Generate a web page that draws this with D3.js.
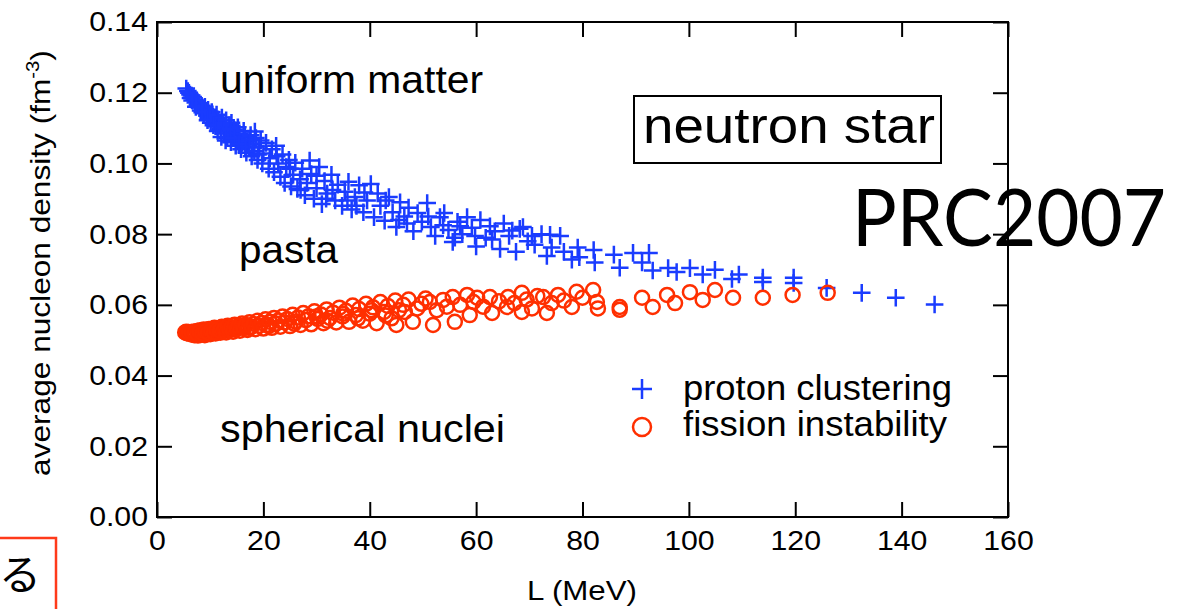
<!DOCTYPE html>
<html><head><meta charset="utf-8">
<script src="https://cdn.jsdelivr.net/npm/d3@7"></script>
<style>body{margin:0;background:#fff} svg{display:block}</style>
</head><body><svg id="c" width="1180" height="609"></svg>
<script>
const xTicks=[0,20,40,60,80,100,120,140,160];
const yTicks=[0,0.02,0.04,0.06,0.08,0.10,0.12,0.14];
const xTitle="L (MeV)";
const yTitle=["average nucleon density (fm","-3",")"];
const regionLabels=["uniform matter","pasta","spherical nuclei"];
const legendLabels=["proton clustering","fission instability"];
const boxLabel="neutron star";
const stamp="PRC2007";
const sideChar="る";

// [L (MeV), density (fm^-3)]
const protonClustering=[
[5.5,.1212],[5.8,.1205],[6.0,.1200],[6.2,.1195],[6.5,.1192],[6.3,.1185],[6.8,.1188],[7.0,.1180],[7.2,.1172],[7.5,.1178],
[7.6,.1165],[7.9,.1170],[8.0,.1158],[8.2,.1150],[8.4,.1163],[8.7,.1155],[8.8,.1142],[9.0,.1160],[9.2,.1148],[9.4,.1135],
[9.6,.1152],[9.8,.1140],[10.0,.1128],[10.1,.1115],[10.3,.1145],[10.5,.1132],[10.8,.1120],[11.0,.1105],[11.2,.1138],[11.5,.1125],
[11.7,.1110],[12.0,.1098],[12.2,.1130],[12.4,.1115],[12.6,.1085],[12.8,.1102],[13.0,.1122],[13.2,.1072],[13.4,.1090],[13.6,.1108],
[13.9,.1060],[14.0,.1115],[14.2,.1080],[14.5,.1095],[14.8,.1050],[15.0,.1068],[15.2,.1102],[15.5,.1085],[15.8,.1040],[16.0,.1058],
[16.3,.1092],[16.5,.1075],[16.8,.1030],[17.0,.1062],[17.3,.1045],[17.6,.1080],[17.8,.1020],[18.0,.1055],[18.3,.1035],[18.6,.1072],
[18.9,.1010],[19.2,.1048],[19.5,.1065],[19.8,.1000],[20.0,.1028],
[6.6,.1178],[7.3,.1160],[8.5,.1145],[9.5,.1122],[10.6,.1108],[11.4,.1092],[12.1,.1075],[12.9,.1065],[13.8,.1098],[14.6,.1072],
[15.4,.1055],[16.6,.1048],[17.4,.1068],[18.4,.1090],[19.0,.1025],
[20.5,.1058],[21.0,.0985],[21.2,.1015],[21.6,.1040],[22.0,.0975],[22.4,.1050],[22.5,.1020],[22.8,.1000],[23.2,.0962],[23.6,.1025],
[24.0,.0945],[24.3,.0990],[24.8,.1010],[25.0,.0985],[25.2,.0935],[25.6,.0968],[26.0,.1002],[26.4,.0928],[26.9,.0955],[27.0,.0925],
[27.3,.0985],[27.8,.0910],[28.2,.0945],[28.7,.1008],[29.0,.0970],[29.5,.0900],[30.0,.0930],[30.0,.0965],[30.5,.0990],[31.0,.0885],
[31.5,.0950],[31.8,.0900],[32.0,.0915],[32.8,.0968],[33.0,.0925],[33.5,.0895],[34.0,.0940],[34.8,.0880],[35.3,.0920],[35.8,.0895],
[36.0,.0948],[36.6,.0870],[37.2,.0905],[37.5,.0880],[38.0,.0938],[38.8,.0862],[39.0,.0918],[39.5,.0895],[40.2,.0942],[40.8,.0848],
[41.5,.0915],[42.0,.0880],[42.8,.0838],[43.0,.0895],[43.6,.0905],[44.3,.0862],[45.0,.0820],[45.5,.0840],[45.7,.0890],[46.5,.0850],
[47.0,.0830],[47.3,.0875],[48.2,.0808],[49.0,.0860],[49.8,.0835],[50.8,.0888],[51.0,.0850],[51.5,.0820],[52.3,.0795],[53.2,.0848],
[53.8,.0825],[54.0,.0860],[54.8,.0812],[55.6,.0778],[56.0,.0790],[56.5,.0835],[57.0,.0822],[57.4,.0800],[58.3,.0848],[59.2,.0818],
[59.8,.0795],[60.0,.0765],[60.8,.0840],[61.8,.0790],[62.6,.0822],[63.0,.0785],[63.5,.0808],[64.5,.0758],[65.2,.0830],[66.2,.0795],
[66.8,.0810],[67.5,.0750],[68.2,.0815],[68.8,.0820],[69.7,.0780],[70.5,.0795],
[71.0,.0770],[72.3,.0800],[73.3,.0738],[73.9,.0798],[74.2,.0762],[75.8,.0795],[76.5,.0750],[78.0,.0728],[79.1,.0762],[79.4,.0735],
[82.1,.0755],[82.3,.0720],[85.9,.0742],[87.0,.0705],[89.5,.0747],[91.2,.0720],[92.5,.0747],[93.2,.0697],
[96.1,.0704],[97.7,.0693],[100.2,.0704],[102.6,.0686],[104.9,.0699],[108.1,.0673],[109.4,.0686],[113.9,.0677],[113.9,.0665],
[119.7,.0677],[119.7,.0662],[125.9,.0648],[132.5,.0634],[138.9,.0620],[146.2,.0601]
];

const fissionInstability=[
[5.3,.0522],[5.6,.0520],[5.9,.0523],[6.1,.0518],[6.3,.0521],[6.6,.0516],[6.8,.0524],[7.0,.0514],[7.2,.0519],[7.5,.0526],
[7.7,.0513],[7.9,.0521],[8.1,.0528],[8.3,.0516],[8.6,.0523],[8.8,.0530],[9.0,.0514],[9.3,.0520],[9.5,.0527],[9.8,.0532],
[10.0,.0517],[10.3,.0524],[10.6,.0531],[10.8,.0535],[11.0,.0519],[11.3,.0526],[11.6,.0533],[11.9,.0521],[12.2,.0538],[12.4,.0528],
[5.5,.0524],[6.0,.0521],[6.5,.0523],[7.1,.0522],[7.6,.0518],[8.0,.0524],[8.5,.0519],[9.1,.0525],[9.6,.0521],[10.2,.0529],
[10.7,.0522],[11.2,.0530],[11.8,.0527],[12.6,.0532],[13.2,.0527],[13.9,.0533],[14.6,.0530],[15.4,.0536],[16.2,.0540],[17.2,.0535],
[12.8,.0535],[13.0,.0522],[13.3,.0541],[13.6,.0530],[14.0,.0537],[14.3,.0524],[14.6,.0544],[15.0,.0532],[15.3,.0540],[15.6,.0527],
[16.0,.0547],[16.3,.0535],[16.7,.0543],[17.0,.0529],[17.4,.0551],[17.8,.0538],[18.2,.0546],[18.5,.0531],[18.9,.0555],[19.3,.0541],
[19.7,.0549],[20.0,.0533],[20.4,.0559],[20.8,.0544],[21.0,.0540],[21.2,.0552],[21.6,.0535],[22.0,.0563],[22.4,.0547],[22.8,.0556],
[23.2,.0538],[23.6,.0567],[24.0,.0550],[24.5,.0560],[25.0,.0540],
[25.5,.0572],[25.8,.0547],[26.0,.0553],[26.5,.0564],[27.0,.0543],[27.5,.0577],[28.0,.0557],[28.5,.0568],[29.0,.0545],[29.6,.0582],
[30.0,.0567],[30.2,.0560],[30.8,.0573],[31.3,.0548],[31.9,.0587],[32.0,.0555],[32.5,.0563],[33.1,.0578],[33.7,.0550],[34.3,.0592],
[34.9,.0567],[35.0,.0575],[35.5,.0583],[36.1,.0552],[36.8,.0598],[37.4,.0571],[37.8,.0562],[38.0,.0588],[38.7,.0555],[39.3,.0603],
[40.0,.0575],[40.3,.0585],[40.6,.0593],[41.3,.0548],[42.0,.0608],[42.7,.0580],[43.0,.0570],[43.4,.0597],[44.1,.0562],[44.8,.0612],
[45.0,.0543],[45.5,.0585],[46.3,.0600],[46.6,.0580],
[47.3,.0615],[48.1,.0552],[48.9,.0590],[49.7,.0603],[50.5,.0618],[51.3,.0608],[51.9,.0543],[52.6,.0585],[53.8,.0614],[54.5,.0595],
[55.6,.0622],[56.0,.0552],[57.0,.0600],[58.3,.0628],[58.8,.0571],[59.5,.0608],[60.2,.0620],[61.3,.0595],[62.6,.0622],[63.0,.0577],
[64.3,.0610],[65.8,.0594],[66.0,.0622],[67.2,.0605],[68.6,.0634],[68.6,.0580],[69.5,.0615],[70.5,.0590],[71.5,.0625],[72.6,.0622],
[73.3,.0577],[74.2,.0605],[75.4,.0628],[76.5,.0612],[78.0,.0594],[78.9,.0637],[80.0,.0620],[82.0,.0642],[82.7,.0608],[82.9,.0590],
[87.0,.0594],[87.0,.0586],[91.2,.0620],[93.2,.0594],[95.9,.0628],[97.4,.0605],[100.2,.0636],[102.6,.0614],[104.9,.0642],
[108.3,.0620],[113.9,.0620],[119.5,.0628],[126.1,.0634]
];

const m={l:157,t:22,r:1008,b:517};
const FONT='"Liberation Sans", Arial, Helvetica, sans-serif';
const BLUE='#1a3cff', RED='#ff2f00';
const svg=d3.select('#c');
const x=d3.scaleLinear().domain([0,160]).range([m.l,m.r]);
const y=d3.scaleLinear().domain([0,0.14]).range([m.b,m.t]);

function stretch(sel,f){ sel.each(function(){ const w=this.getComputedTextLength(); d3.select(this).attr('textLength',w*f).attr('lengthAdjust','spacingAndGlyphs'); }); }
function styleAxis(g){ g.select('.domain').remove(); g.selectAll('.tick line').attr('stroke','#000').attr('stroke-width',2); g.selectAll('text').attr('font-size',28).attr('font-family',FONT).attr('fill','#000'); }

// markers
svg.append('g').selectAll('path').data(protonClustering).join('path')
  .attr('transform',d=>`translate(${x(d[0])},${y(d[1])})`)
  .attr('d','M-8.8,0H8.8M0,-8.8V8.8').attr('stroke',BLUE).attr('stroke-width',2.5).attr('fill','none');
svg.append('g').selectAll('circle').data(fissionInstability).join('circle')
  .attr('cx',d=>x(d[0])).attr('cy',d=>y(d[1])).attr('r',7)
  .attr('fill','none').attr('stroke',RED).attr('stroke-width',2.5);

// axes
const gb=svg.append('g').attr('transform',`translate(0,${m.b})`)
  .call(d3.axisBottom(x).tickValues(xTicks).tickFormat(d3.format('d')).tickSizeInner(-15).tickSizeOuter(0).tickPadding(13));
styleAxis(gb); stretch(gb.selectAll('text'),1.08);
const gt=svg.append('g').attr('transform',`translate(0,${m.t})`)
  .call(d3.axisTop(x).tickValues(xTicks).tickFormat('').tickSizeInner(-15).tickSizeOuter(0));
styleAxis(gt);
const gl=svg.append('g').attr('transform',`translate(${m.l},0)`)
  .call(d3.axisLeft(y).tickValues(yTicks).tickFormat(d3.format('.2f')).tickSizeInner(-15).tickSizeOuter(0).tickPadding(9));
styleAxis(gl); stretch(gl.selectAll('text'),1.08);
const gr=svg.append('g').attr('transform',`translate(${m.r},0)`)
  .call(d3.axisRight(y).tickValues(yTicks).tickFormat('').tickSizeInner(-15).tickSizeOuter(0));
styleAxis(gr);
svg.append('rect').attr('x',m.l).attr('y',m.t).attr('width',m.r-m.l).attr('height',m.b-m.t)
  .attr('fill','none').attr('stroke','#000').attr('stroke-width',2);

function label(txt,x0,yb,size,width,opts={}){
  const t=svg.append('text').attr('x',x0).attr('y',yb).attr('font-size',size)
    .attr('font-family',opts.family||FONT).attr('text-anchor',opts.anchor||'start').attr('fill',opts.fill||'#000').text(txt);
  if(width) t.attr('textLength',width).attr('lengthAdjust','spacingAndGlyphs');
  return t;
}

// axis titles
label(xTitle,582,600,28,110,{anchor:'middle'});
const yt=svg.append('text').attr('font-size',28).attr('font-family',FONT).attr('text-anchor','middle').attr('fill','#000');
yt.append('tspan').text(yTitle[0]);
yt.append('tspan').attr('font-size',18).attr('dy',-11).text(yTitle[1]);
yt.append('tspan').attr('font-size',28).attr('dy',11).text(yTitle[2]);
const yw=yt.node().getComputedTextLength();
yt.attr('transform',`translate(50,263) rotate(-90) scale(${426/yw},1)`);

// region labels
label(regionLabels[0],220,93,38,263);
label(regionLabels[1],239,263,38,99);
label(regionLabels[2],220,442,38,285);

// neutron star box
svg.append('rect').attr('x',634).attr('y',96).attr('width',307).attr('height',67)
  .attr('fill','none').attr('stroke','#000').attr('stroke-width',2);
label(boxLabel,643,143,50,292);

// stamp
label(stamp,852,246,80,314,{family:'Lato, "Open Sans", sans-serif'});

// legend
svg.append('path').attr('transform','translate(642,389)').attr('d','M-10,0H10M0,-10V10').attr('stroke',BLUE).attr('stroke-width',2.5);
svg.append('circle').attr('cx',642).attr('cy',427).attr('r',9).attr('fill','none').attr('stroke',RED).attr('stroke-width',2.5);
label(legendLabels[0],683,400,35,269);
label(legendLabels[1],683,436,35,264);

// side box
svg.append('rect').attr('x',-5).attr('y',538).attr('width',61).attr('height',100)
  .attr('fill','none').attr('stroke','#ff3a1a').attr('stroke-width',2.5);
label(sideChar,20,590,42,null,{anchor:'middle',family:'"Noto Sans CJK JP", sans-serif'});
</script></body></html>
